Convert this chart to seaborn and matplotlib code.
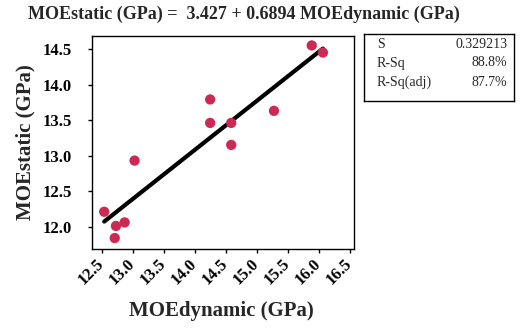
import numpy as np
import pandas as pd
import matplotlib
matplotlib.use('Agg')
import matplotlib.pyplot as plt
import seaborn as sns

# data
moe_dynamic = [12.54, 12.73, 12.71, 12.87, 13.03, 14.25, 14.25, 14.59, 14.59, 15.28, 15.89, 16.07]
moe_static = [12.21, 12.01, 11.84, 12.06, 12.93, 13.79, 13.46, 13.46, 13.15, 13.63, 14.55, 14.45]
intercept = 3.427
slope = 0.6894
stat_names = ['S', 'R-Sq', 'R-Sq(adj)']
stat_values = ['0.329213', '88.8%', '87.7%']
x_ticks = [12.5, 13.0, 13.5, 14.0, 14.5, 15.0, 15.5, 16.0, 16.5]
y_ticks = [12.0, 12.5, 13.0, 13.5, 14.0, 14.5]

df = pd.DataFrame({'dyn': moe_dynamic, 'stat': moe_static})
fit = pd.DataFrame({'dyn': [min(moe_dynamic), max(moe_dynamic)]})
fit['stat'] = intercept + slope * fit['dyn']

sns.set_style('ticks')
plt.rcParams['font.family'] = ['Liberation Serif', 'DejaVu Serif']

W, H = 532, 332
fig = plt.figure(figsize=(W / 100, H / 100), dpi=100)
ax = fig.add_axes([91.5 / W, 1 - 249 / H, (354.3 - 91.5) / W, (249 - 35.7) / H])

sns.lineplot(data=fit, x='dyn', y='stat', ax=ax, color='black', linewidth=3, zorder=2)
sns.scatterplot(data=df, x='dyn', y='stat', ax=ax, color='#CC2A52', s=55,
                edgecolor='none', zorder=3)

ax.set_xlim(12.335, 16.577)
ax.set_ylim(11.686, 14.687)
ax.set_xticks(x_ticks)
ax.set_yticks(y_ticks)
ax.set_xticklabels([f'{t:.1f}' for t in x_ticks], rotation=45, ha='right', va='center',
                   rotation_mode='anchor', fontsize=12, fontweight='bold')
ax.set_yticklabels([f'{t:.1f}' for t in y_ticks], fontsize=12, fontweight='bold')
ax.tick_params(direction='out', length=3, width=1, colors='black')
ax.tick_params(axis='y', pad=11)
ax.tick_params(axis='x', pad=6)
for sp in ax.spines.values():
    sp.set_visible(True)
    sp.set_color('black')
    sp.set_linewidth(1)

ax.set_xlabel('MOEdynamic (GPa)', fontsize=15, fontweight='bold')
ax.set_ylabel('MOEstatic (GPa)', fontsize=15, fontweight='bold')
ax.xaxis.set_label_coords(0.495, -0.245)
ax.yaxis.set_label_coords(-0.212, 0.502)

fig.text(244 / W, 1 - 14 / H, 'MOEstatic (GPa) =  3.427 + 0.6894 MOEdynamic (GPa)',
         ha='center', va='center', fontsize=13, fontweight='bold')

# summary box
box = fig.add_axes([364 / W, 1 - 100.7 / H, (514 - 364) / W, (100.7 - 34) / H])
box.set_xticks([])
box.set_yticks([])
for sp in box.spines.values():
    sp.set_visible(True)
    sp.set_color('black')
    sp.set_linewidth(1)
row_y = [45, 63, 82]
for name, val, yy in zip(stat_names, stat_values, row_y):
    fig.text(377 / W, 1 - yy / H, name, ha='left', va='center', fontsize=10)
    fig.text(507 / W, 1 - yy / H, val, ha='right', va='center', fontsize=10)

fig.savefig('out.png', dpi=100)
